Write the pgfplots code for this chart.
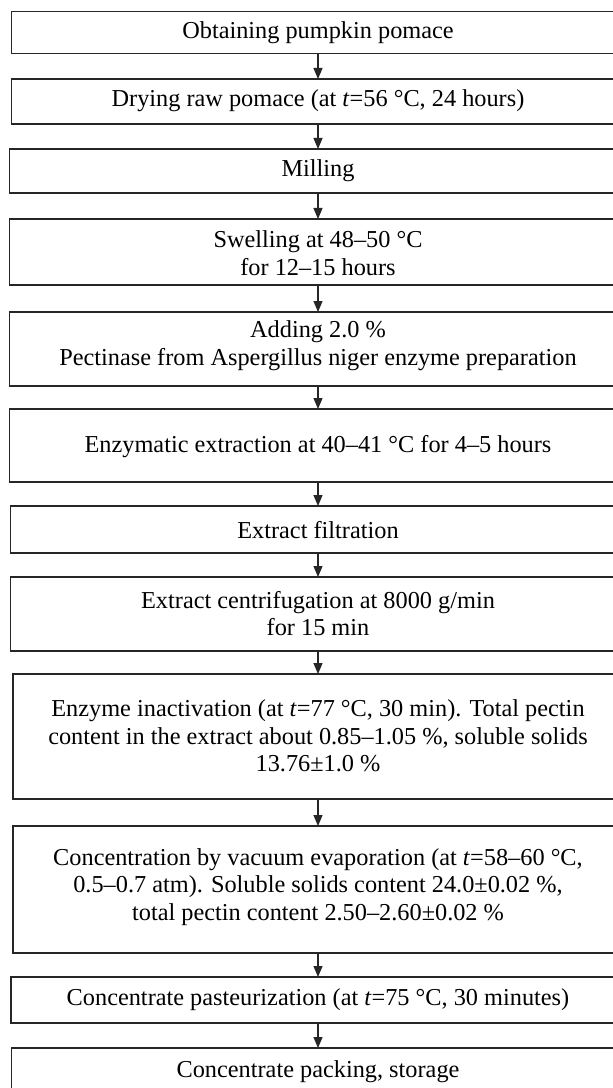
\documentclass[border=0pt]{standalone}
\usepackage{pgfplots}
\pgfplotsset{compat=1.18}
\usepackage{fontspec}
\setmainfont{Liberation Serif}
\usetikzlibrary{arrows.meta}
\tikzset{
  box/.style={line width=1.2bp,black!85,mark=none},
  arr/.style={line width=1.2bp,black!85,mark=none,-{Triangle[length=11bp,width=9bp]}},
  txt/.style={align=center,text=black,font=\fontsize{24.4}{27.8}\selectfont,inner sep=0pt}}
\begin{document}
\begin{tikzpicture}
\begin{axis}[width=613bp,height=1088bp,scale only axis,
  xmin=0,xmax=613,ymin=0,ymax=1088,y dir=reverse,
  axis lines=none,clip=true]
% boxes (right side lies outside the picture)
\addplot[box] coordinates {(613,11.5) (11.7,11.5) (11.7,53.5) (613,53.5)};
\addplot[box] coordinates {(613,79) (11.7,79) (11.7,124) (613,124)};
\addplot[box] coordinates {(613,149) (9.8,149) (9.8,193) (613,193)};
\addplot[box] coordinates {(613,219) (9.4,219) (9.4,285) (613,285)};
\addplot[box] coordinates {(613,312) (9.8,312) (9.8,386) (613,386)};
\addplot[box] coordinates {(613,409) (9.8,409) (9.8,482) (613,482)};
\addplot[box] coordinates {(613,506) (10.6,506) (10.6,553) (613,553)};
\addplot[box] coordinates {(613,577) (10.6,577) (10.6,651) (613,651)};
\addplot[box] coordinates {(613,674) (12.9,674) (12.9,799) (613,799)};
\addplot[box] coordinates {(613,826) (13,826) (13,953) (613,953)};
\addplot[box] coordinates {(613,977) (10.9,977) (10.9,1023) (613,1023)};
\addplot[box] coordinates {(613,1048) (11.7,1048) (11.7,1088)};
% arrows
\addplot[arr] coordinates {(318,53.5) (318,79)};
\addplot[arr] coordinates {(318,124) (318,149)};
\addplot[arr] coordinates {(318,193) (318,219)};
\addplot[arr] coordinates {(318,285) (318,312)};
\addplot[arr] coordinates {(318,386) (318,409)};
\addplot[arr] coordinates {(318,482) (318,506)};
\addplot[arr] coordinates {(318,553) (318,577)};
\addplot[arr] coordinates {(318,651) (318,674)};
\addplot[arr] coordinates {(318,799) (318,826)};
\addplot[arr] coordinates {(318,953) (318,977)};
\addplot[arr] coordinates {(318,1023) (318,1048)};
% texts
\node[txt] at (axis cs:318,32.5) {Obtaining pumpkin pomace};
\node[txt] at (axis cs:318,101) {Drying raw pomace (at \textit{t}=56 °C, 24 hours)};
\node[txt] at (axis cs:318,171) {Milling};
\node[txt] at (axis cs:318,253.5) {Swelling at 48–50 °C\\for 12–15 hours};
\node[txt] at (axis cs:318,346) {Adding 2.0 \%\\Pectinase from Aspergillus niger enzyme preparation};
\node[txt] at (axis cs:318,447) {Enzymatic extraction at 40–41 °C for 4–5 hours};
\node[txt] at (axis cs:318,530) {Extract filtration};
\node[txt] at (axis cs:318,613.5) {Extract centrifugation at 8000 g/min\\for 15 min};
\node[txt] at (axis cs:318,736) {Enzyme inactivation (at \textit{t}=77 °C, 30 min). Total pectin\\content in the extract about 0.85–1.05 \%, soluble solids\\13.76±1.0 \%};
\node[txt] at (axis cs:318,887) {Concentration by vacuum evaporation (at \textit{t}=58–60 °C,\\0.5–0.7 atm). Soluble solids content 24.0±0.02 \%,\\total pectin content 2.50–2.60±0.02 \%};
\node[txt] at (axis cs:318,1000) {Concentrate pasteurization (at \textit{t}=75 °C, 30 minutes)};
\node[txt] at (axis cs:318,1072) {Concentrate packing, storage};
\end{axis}
\path (current axis.south west) rectangle (current axis.north east);
\end{tikzpicture}
\end{document}
